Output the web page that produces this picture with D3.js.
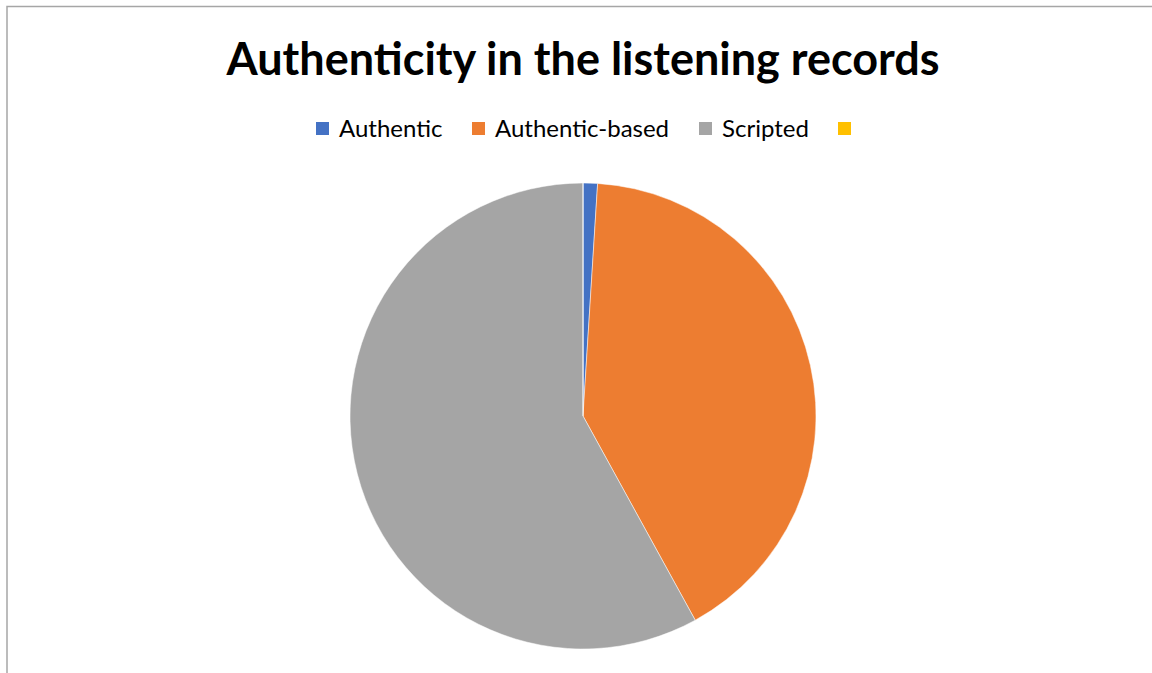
<!DOCTYPE html>
<html>
<head>
	<title>Authenticity in the listening records</title>
	<script src="https://cdn.jsdelivr.net/npm/d3@7"></script>
	<style>
		body { margin: 0; background: #fff; }
		svg text { font-family: Lato, "Open Sans", sans-serif; fill: #000; }
	</style>
</head>
<body>
	<script type="text/javascript">
		// Data (percent of records)
		var categories = ["Authentic", "Authentic-based", "Scripted", ""];
		var values = [1, 41, 58, 0];
		var colours = ["#4472C4", "#ED7D31", "#A5A5A5", "#FFC000"];

		var width = 1152, height = 673;
		var svg = d3.select("body").append("svg")
			.attr("width", width)
			.attr("height", height);

		// chart area border (only left and top show in the frame)
		svg.append("rect")
			.attr("x", 7).attr("y", 6.5)
			.attr("width", width + 10).attr("height", height + 10)
			.attr("fill", "none")
			.attr("stroke", "#a6a6a6")
			.attr("stroke-width", 1.5);

		svg.append("text")
			.attr("x", 583).attr("y", 75)
			.attr("text-anchor", "middle")
			.attr("font-size", "45px")
			.attr("font-weight", "bold")
			.text("Authenticity in the listening records");

		// legend
		var legendX = [316, 472, 699, 838];
		var legend = svg.selectAll("g.legend")
			.data(categories)
			.enter().append("g")
			.attr("class", "legend")
			.attr("transform", function(d, i) { return "translate(" + legendX[i] + ",122)"; });
		legend.append("rect")
			.attr("width", 13).attr("height", 13)
			.attr("fill", function(d, i) { return colours[i]; });
		legend.append("text")
			.attr("x", 23).attr("y", 15)
			.attr("font-size", "24px")
			.text(function(d) { return d; });

		// pie
		var pie = d3.pie().sort(null).value(function(d) { return d; });
		var arc = d3.arc().innerRadius(0).outerRadius(233);
		svg.append("g")
			.attr("transform", "translate(583,416)")
			.selectAll("path")
			.data(pie(values))
			.enter().append("path")
			.attr("d", arc)
			.attr("fill", function(d, i) { return colours[i]; })
			.attr("stroke", "#fff")
			.attr("stroke-width", 0.5);
	</script>
</body>
</html>
